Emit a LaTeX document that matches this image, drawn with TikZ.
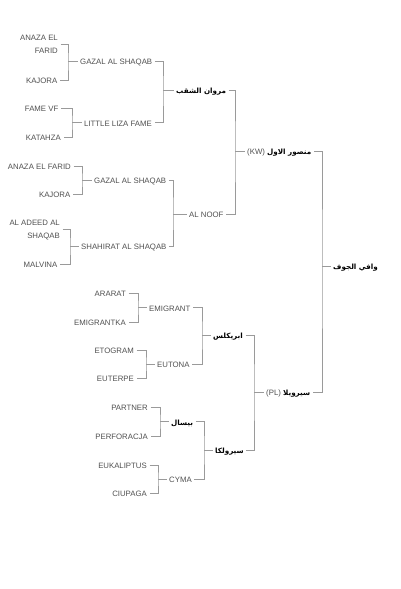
\documentclass[tikz,border=0pt]{standalone}
\usepackage{fontspec}
\setmainfont{Liberation Sans}
\newfontfamily\arabicfont[Script=Arabic]{DejaVu Sans}
\TeXXeTstate=1
\definecolor{txtgray}{HTML}{505050}
\definecolor{linegray}{HTML}{9A9A9A}
\begin{document}
\begin{tikzpicture}[x=1pt,y=-1pt,
  every node/.style={font=\fontsize{7.8}{13}\selectfont, text=txtgray, inner sep=2.5pt, text height=0.72em, text depth=0pt},
  kid/.style={anchor=east, align=right},
  kidtwo/.style={anchor=east, align=right, text height=18.6pt, text depth=0pt},
  par/.style={anchor=west},
  arfont/.style={font=\fontsize{7.2}{10}\selectfont\arabicfont\bfseries},
  ar/.style={anchor=west, text=black, arfont},
  conn/.style={draw=linegray, line width=0.8pt}]
\useasboundingbox (0,0) rectangle (400,589);
% ---- top group 1
\node[kidtwo] (a1) at (60.5,44.5) {ANAZA EL\\FARID};
\node[kid] (a2) at (60,80) {KAJORA};
\node[par] (g1) at (77.5,61) {GAZAL AL SHAQAB};
\node[kid] (a3) at (61,108) {FAME VF};
\node[kid] (a4) at (63.5,137) {KATAHZA};
\node[par] (g2) at (81.5,122.5) {LITTLE LIZA FAME};
\node[ar] (m1) at (173.5,90) {\beginR مروان الشقب\endR};
% ---- top group 2
\node[kid] (b1) at (73.5,166) {ANAZA EL FARID};
\node[kid] (b2) at (73,194) {KAJORA};
\node[par] (g3) at (91.5,180) {GAZAL AL SHAQAB};
\node[kidtwo] (b3) at (62.5,229) {AL ADEED AL\\SHAQAB};
\node[kid] (b4) at (60,264) {MALVINA};
\node[par] (g4) at (78.5,246) {SHAHIRAT AL SHAQAB};
\node[par] (noof) at (186.5,214) {AL NOOF};
\node[anchor=west] (kw) at (244.5,151) {(KW) {\fontsize{7.2}{10}\arabicfont\bfseries\color{black}\beginR منصور الاول\endR}};
% ---- root
\node[ar] (root) at (330.5,266) {\beginR وافي الجوف\endR};
% ---- bottom group 1
\node[kid] (c1) at (128.5,293) {ARARAT};
\node[kid] (c2) at (128.5,322) {EMIGRANTKA};
\node[par] (e1) at (146.5,307.5) {EMIGRANT};
\node[kid] (c3) at (136.5,350) {ETOGRAM};
\node[kid] (c4) at (136.5,378) {EUTERPE};
\node[par] (e2) at (154.5,364) {EUTONA};
\node[ar] (ib) at (210.5,335) {\beginR ابريكلس\endR};
% ---- bottom group 2
\node[kid] (d1) at (150.5,407) {PARTNER};
\node[kid] (d2) at (150.5,436) {PERFORACJA};
\node[ar] (bi) at (168.5,421.5) {\beginR بيسال\endR};
\node[kid] (d3) at (149.5,465) {EUKALIPTUS};
\node[kid] (d4) at (149.5,493) {CIUPAGA};
\node[par] (cy) at (166.5,479) {CYMA};
\node[ar] (sk) at (212.5,450) {\beginR سيرولكا\endR};
\node[anchor=west] (pl) at (263.5,392) {(PL) {\fontsize{7.2}{10}\arabicfont\bfseries\color{black}\beginR سيرويلا\endR}};
% ---- junction coordinates
\coordinate (j1) at (68,61);
\coordinate (j2) at (72,122.5);
\coordinate (j3) at (163,90);
\coordinate (j4) at (82,180);
\coordinate (j5) at (70,246);
\coordinate (j6) at (173,214);
\coordinate (j7) at (235,151);
\coordinate (j8) at (322,266);
\coordinate (k1) at (138,307.5);
\coordinate (k2) at (146,364);
\coordinate (k3) at (202,335);
\coordinate (k4) at (160,421.5);
\coordinate (k5) at (158,479);
\coordinate (k6) at (204,450);
\coordinate (k7) at (254,392);
% ---- connectors
\draw[conn] (a1.east) -| (j1) |- (a2.east); \draw[conn] (j1) -- (g1.west);
\draw[conn] (a3.east) -| (j2) |- (a4.east); \draw[conn] (j2) -- (g2.west);
\draw[conn] (g1.east) -| (j3) |- (g2.east); \draw[conn] (j3) -- (m1.west);
\draw[conn] (b1.east) -| (j4) |- (b2.east); \draw[conn] (j4) -- (g3.west);
\draw[conn] (b3.east) -| (j5) |- (b4.east); \draw[conn] (j5) -- (g4.west);
\draw[conn] (g3.east) -| (j6) |- (g4.east); \draw[conn] (j6) -- (noof.west);
\draw[conn] (m1.east) -| (j7) |- (noof.east); \draw[conn] (j7) -- (kw.west);
\draw[conn] (kw.east) -| (j8) |- (pl.east); \draw[conn] (j8) -- (root.west);
\draw[conn] (c1.east) -| (k1) |- (c2.east); \draw[conn] (k1) -- (e1.west);
\draw[conn] (c3.east) -| (k2) |- (c4.east); \draw[conn] (k2) -- (e2.west);
\draw[conn] (e1.east) -| (k3) |- (e2.east); \draw[conn] (k3) -- (ib.west);
\draw[conn] (d1.east) -| (k4) |- (d2.east); \draw[conn] (k4) -- (bi.west);
\draw[conn] (d3.east) -| (k5) |- (d4.east); \draw[conn] (k5) -- (cy.west);
\draw[conn] (bi.east) -| (k6) |- (cy.east); \draw[conn] (k6) -- (sk.west);
\draw[conn] (ib.east) -| (k7) |- (sk.east); \draw[conn] (k7) -- (pl.west);
\end{tikzpicture}
\end{document}
